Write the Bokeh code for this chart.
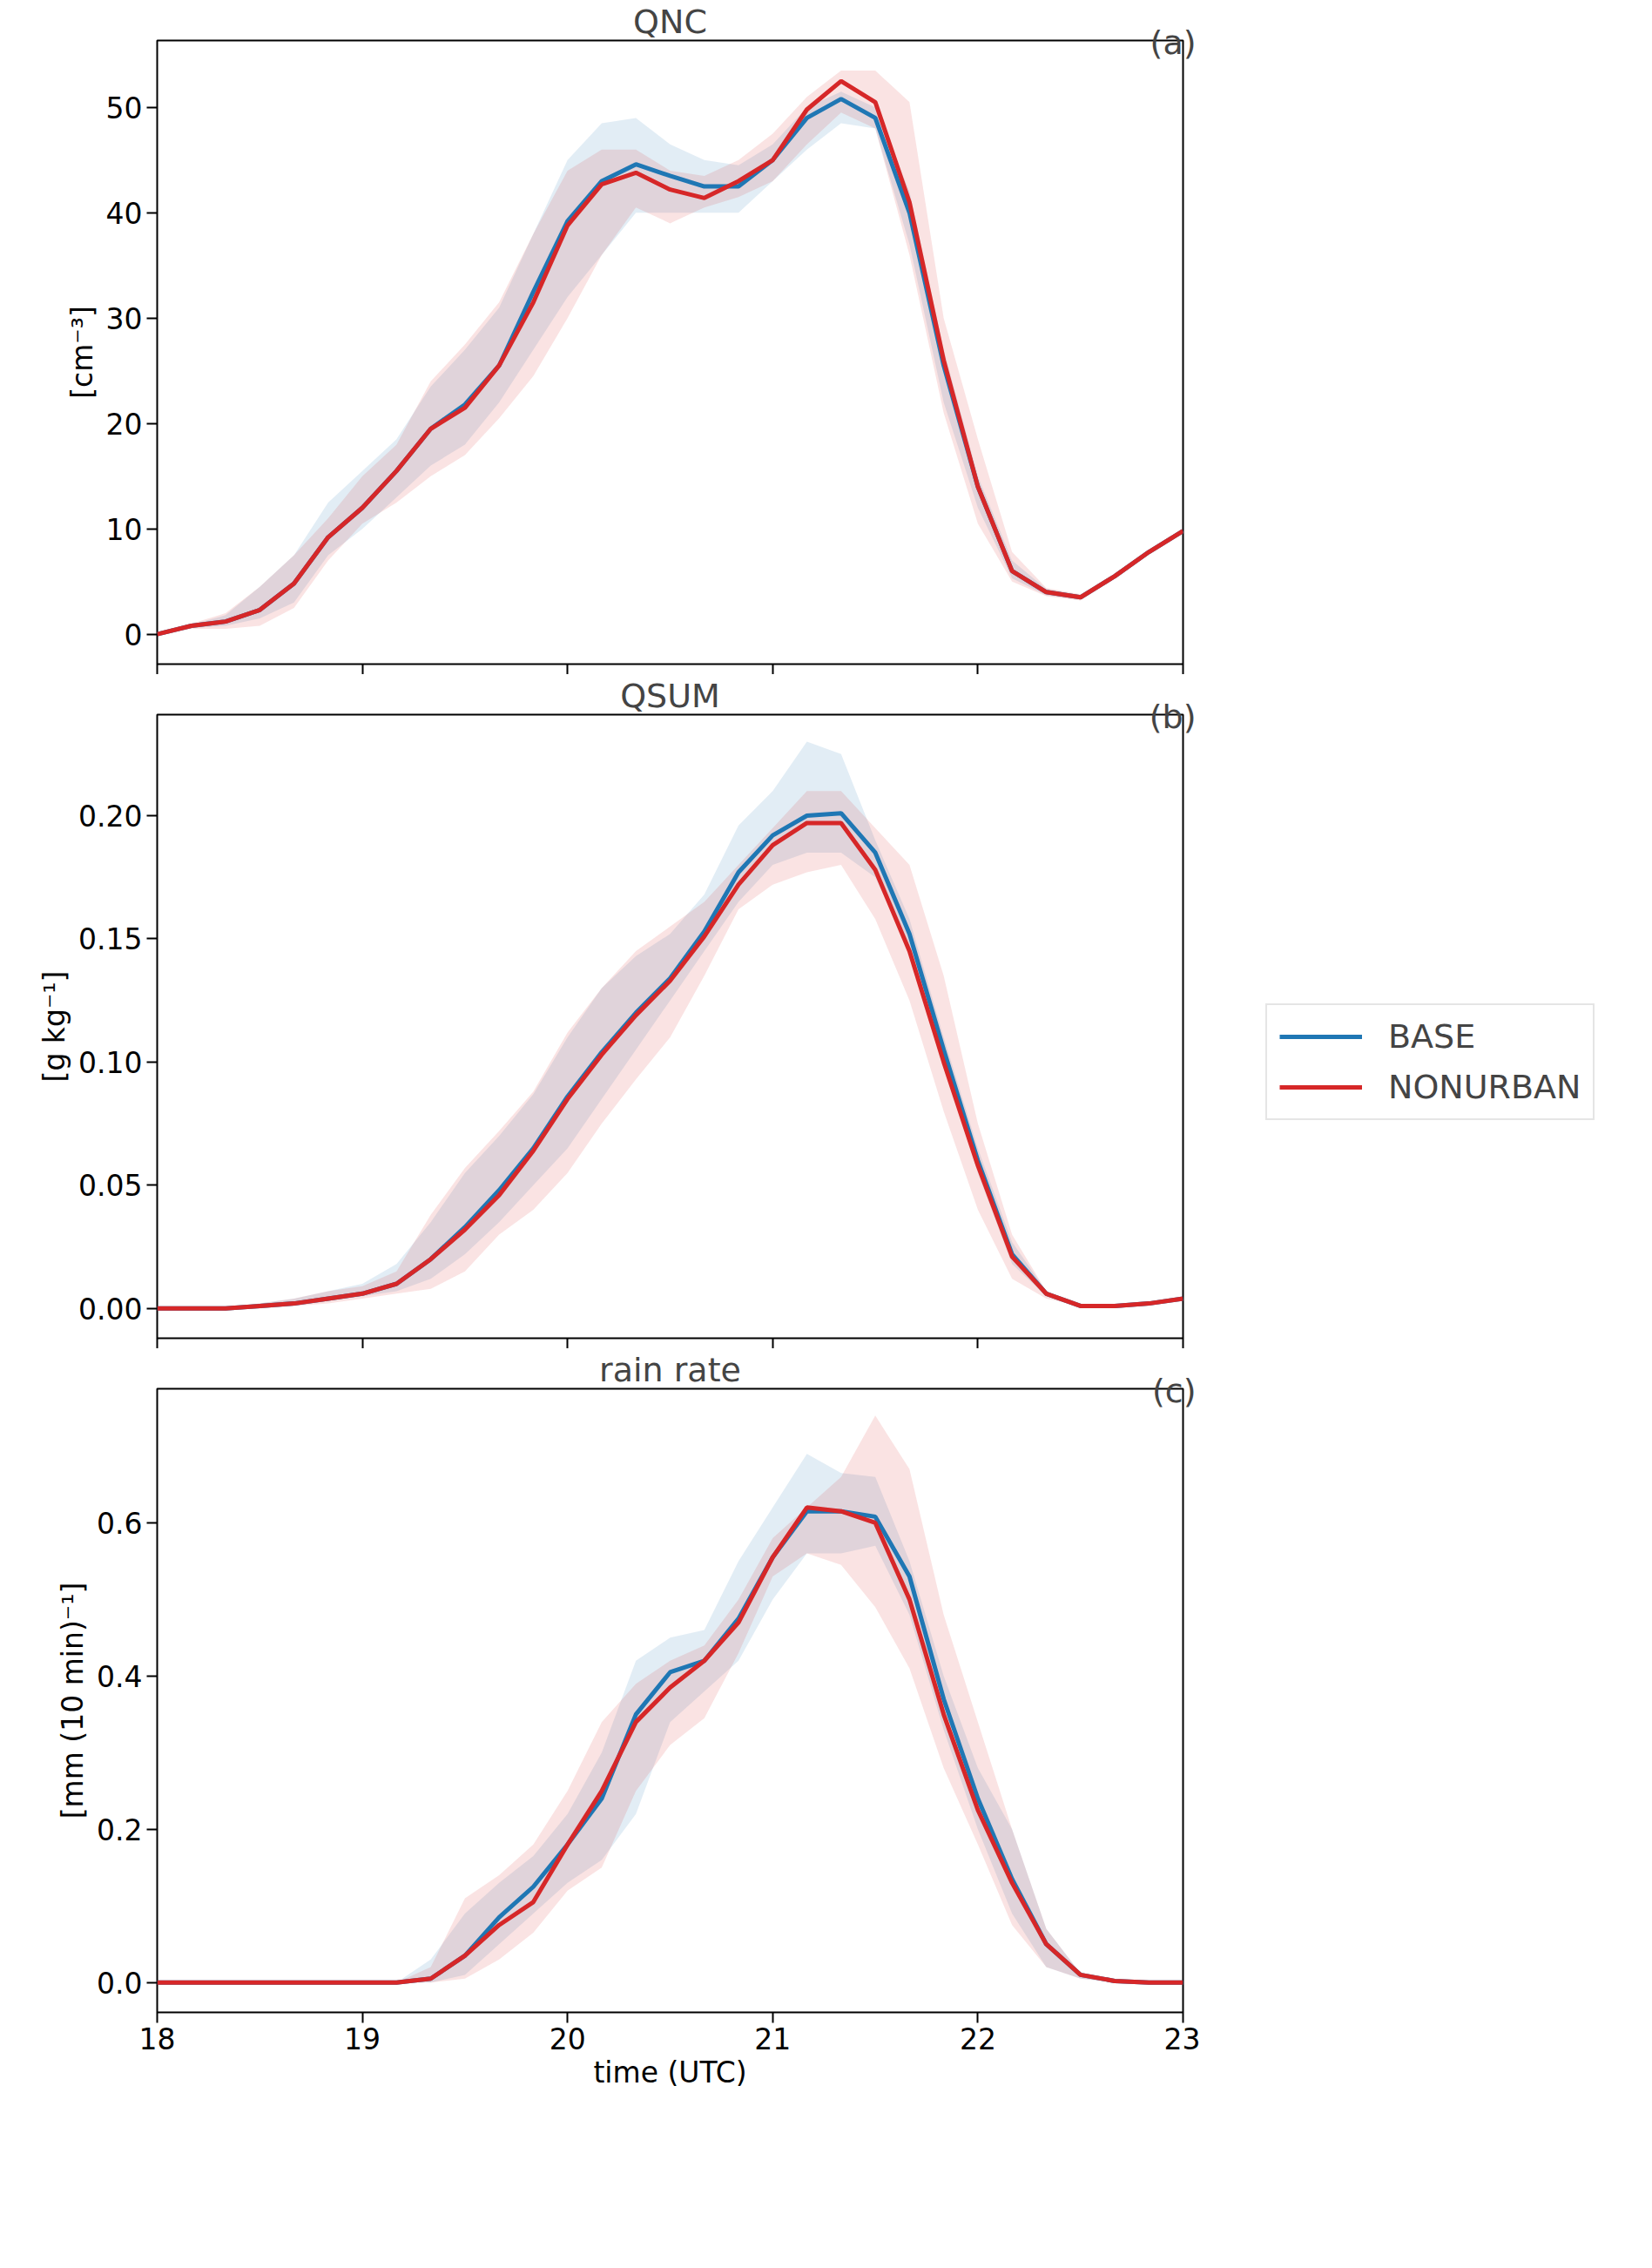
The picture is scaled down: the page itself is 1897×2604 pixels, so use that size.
from bokeh.plotting import figure
from bokeh.layouts import column
from bokeh.models import Legend, LegendItem, Title, Range1d, FixedTicker
from bokeh.embed import file_html
from bokeh.resources import INLINE

time = [18 + k / 6 for k in range(31)]

qnc_base = [0,0.8,1.2,2.3,4.8,9.2,12,15.5,19.5,21.8,25.5,32.5,39.2,43,44.6,43.5,42.5,42.5,45,49,50.8,49,40,25.5,14,6,4,3.5,5.5,7.8,9.8]
qnc_non = [0,0.8,1.2,2.3,4.8,9.2,12,15.5,19.5,21.5,25.5,31.5,38.8,42.7,43.8,42.2,41.4,43,45,49.8,52.5,50.5,41,26,14,6,4,3.5,5.5,7.8,9.8]
qnc_base_hi = [0,0.9,1.8,4.5,7.5,12.5,15.5,18.5,23.5,27,31,38,45,48.5,49,46.5,45,44.5,46.5,50,51.5,50,42,27,15,7,4.3,3.7,5.7,8,10]
qnc_base_lo = [0,0.6,0.8,1.5,3,7.5,10,13,16,18,22,27,32,36,40,40,40,40,43,46,48.5,48,37,22,12,5.3,3.7,3.3,5.3,7.6,9.6]
qnc_non_hi = [0,1,2,4.5,7.5,11,15,18,24,27.5,31.5,38,44,46,46,44,43.5,45,47.5,51,53.5,53.5,50.5,30,18.5,7.8,4.4,3.8,5.7,8,10]
qnc_non_lo = [0,0.5,0.5,0.8,2.5,7,10.5,12.5,15,17,20.5,24.5,30,36,40.5,39,40.5,41.5,43,46.5,49.5,48,36,21,10.5,5,3.6,3.2,5.3,7.6,9.6]

qs_base = [0,0,0,0.001,0.002,0.004,0.006,0.01,0.02,0.033,0.048,0.065,0.086,0.104,0.12,0.134,0.153,0.177,0.192,0.200,0.201,0.185,0.152,0.105,0.06,0.022,0.006,0.001,0.001,0.002,0.004]
qs_non = [0,0,0,0.001,0.002,0.004,0.006,0.01,0.02,0.032,0.046,0.064,0.085,0.103,0.119,0.133,0.151,0.172,0.188,0.197,0.197,0.178,0.145,0.10,0.058,0.021,0.006,0.001,0.001,0.002,0.004]
qs_base_hi = [0,0,0,0.002,0.004,0.007,0.01,0.018,0.035,0.055,0.07,0.087,0.11,0.13,0.143,0.152,0.168,0.196,0.21,0.23,0.225,0.19,0.158,0.11,0.065,0.027,0.007,0.001,0.001,0.002,0.004]
qs_base_lo = [0,0,0,0,0.001,0.003,0.005,0.007,0.012,0.022,0.035,0.05,0.065,0.085,0.105,0.125,0.145,0.165,0.18,0.185,0.185,0.175,0.145,0.1,0.055,0.018,0.005,0.001,0.001,0.002,0.004]
qs_non_hi = [0,0,0,0.002,0.004,0.007,0.009,0.015,0.038,0.057,0.072,0.088,0.112,0.13,0.145,0.155,0.165,0.18,0.195,0.21,0.21,0.195,0.18,0.135,0.075,0.03,0.007,0.001,0.001,0.002,0.004]
qs_non_lo = [0,0,0,0,0.001,0.002,0.004,0.006,0.008,0.015,0.03,0.04,0.055,0.075,0.093,0.11,0.135,0.162,0.172,0.177,0.18,0.158,0.125,0.08,0.04,0.012,0.004,0.001,0.001,0.002,0.004]

rr_base = [0]*8 + [0.005,0.035,0.085,0.125,0.18,0.24,0.35,0.405,0.42,0.475,0.555,0.615,0.615,0.608,0.53,0.37,0.24,0.135,0.05,0.01,0.002,0,0]
rr_non = [0]*8 + [0.005,0.035,0.075,0.105,0.18,0.25,0.34,0.385,0.42,0.47,0.555,0.62,0.615,0.6,0.5,0.35,0.225,0.13,0.05,0.01,0.002,0,0]
rr_base_hi = [0]*8 + [0.03,0.09,0.13,0.165,0.22,0.3,0.42,0.45,0.46,0.55,0.62,0.69,0.665,0.66,0.55,0.4,0.28,0.2,0.07,0.012,0,0,0]
rr_base_lo = [0]*8 + [0,0.01,0.05,0.09,0.13,0.16,0.22,0.34,0.38,0.42,0.5,0.56,0.56,0.57,0.48,0.33,0.2,0.09,0.02,0.005,0,0,0]
rr_non_hi = [0]*8 + [0.02,0.11,0.14,0.18,0.25,0.34,0.39,0.42,0.44,0.5,0.58,0.62,0.66,0.74,0.67,0.48,0.34,0.2,0.07,0.012,0,0,0]
rr_non_lo = [0]*8 + [0,0.005,0.03,0.065,0.12,0.15,0.25,0.31,0.345,0.43,0.53,0.56,0.545,0.49,0.41,0.28,0.18,0.075,0.02,0.005,0,0,0]

BLUE = "#1f77b4"
RED = "#d62728"
FONT = "DejaVu Sans"

def panel(title, tag, ylabel, yr, yticks, fmt, b_base, b_non, hl, last, legend=False):
    p = figure(frame_width=1178, frame_height=716, output_backend="svg", toolbar_location=None,
               x_range=Range1d(18, 23), y_range=Range1d(*yr),
               min_border_left=180, min_border_top=0, min_border_bottom=0, min_border_right=20)
    p.title.text = title
    p.title.align = "center"
    p.title.text_font = FONT
    p.title.text_font_size = "38px"
    p.title.text_font_style = "normal"
    p.title.standoff = 0
    t2 = Title(text=tag, align="right", text_font=FONT, text_font_size="38px",
               text_font_style="normal", offset=-15, standoff=-48)
    p.add_layout(t2, "above")
    p.grid.visible = False
    p.outline_line_color = "black"
    p.outline_line_width = 2
    p.varea(x=time, y1=hl[0], y2=hl[1], fill_color=BLUE, fill_alpha=0.13)
    p.varea(x=time, y1=hl[2], y2=hl[3], fill_color=RED, fill_alpha=0.13)
    rb = p.line(time, b_base, line_color=BLUE, line_width=5)
    rn = p.line(time, b_non, line_color=RED, line_width=5)
    for ax in (p.xaxis[0], p.yaxis[0]):
        ax.axis_line_color = None
        ax.major_tick_line_color = "black"
        ax.major_tick_line_width = 2
        ax.major_tick_out = 12
        ax.major_tick_in = 0
        ax.minor_tick_line_color = None
        ax.major_label_text_font = FONT
        ax.major_label_text_font_size = "33px"
        ax.major_label_text_color = "black"
        ax.axis_label_text_font = FONT
        ax.axis_label_text_font_size = "33px"
        ax.axis_label_text_font_style = "normal"
        ax.axis_label_text_color = "black"
    p.xaxis.ticker = FixedTicker(ticks=[18, 19, 20, 21, 22, 23])
    p.yaxis.ticker = FixedTicker(ticks=yticks)
    p.yaxis.major_label_overrides = {t: fmt.format(t) for t in yticks}
    p.yaxis.axis_label = ylabel
    if last:
        p.xaxis.axis_label = "time (UTC)"
        p.xaxis.axis_label_standoff = 4
    else:
        p.xaxis.major_label_overrides = {t: "" for t in [18, 19, 20, 21, 22, 23]}
        p.xaxis.major_label_standoff = 0
    if legend:
        lg = Legend(items=[LegendItem(label="BASE", renderers=[rb]), LegendItem(label="NONURBAN", renderers=[rn])],
                    label_text_font=FONT, label_text_font_size="38px", glyph_width=95, glyph_height=30,
                    border_line_color="#cccccc", border_line_width=2, padding=14, spacing=14,
                    label_standoff=30, margin=0, location=(95, 250))
        p.add_layout(lg, "right")
    return p

pa = panel("QNC", "(a)", "[cm⁻³]", (-2.84, 56.35), [0, 10, 20, 30, 40, 50], "{:.0f}",
           qnc_base, qnc_non, (qnc_base_lo, qnc_base_hi, qnc_non_lo, qnc_non_hi), False)
pb = panel("QSUM", "(b)", "[g kg⁻¹]", (-0.0121, 0.241), [0, 0.05, 0.1, 0.15, 0.2], "{:.2f}",
           qs_base, qs_non, (qs_base_lo, qs_base_hi, qs_non_lo, qs_non_hi), False, legend=True)
pc = panel("rain rate", "(c)", "[mm (10 min)⁻¹]", (-0.039, 0.775), [0, 0.2, 0.4, 0.6], "{:.1f}",
           rr_base, rr_non, (rr_base_lo, rr_base_hi, rr_non_lo, rr_non_hi), True)
layout = column(pa, pb, pc, spacing=0)
open("out.html", "w").write(file_html(layout, INLINE))
